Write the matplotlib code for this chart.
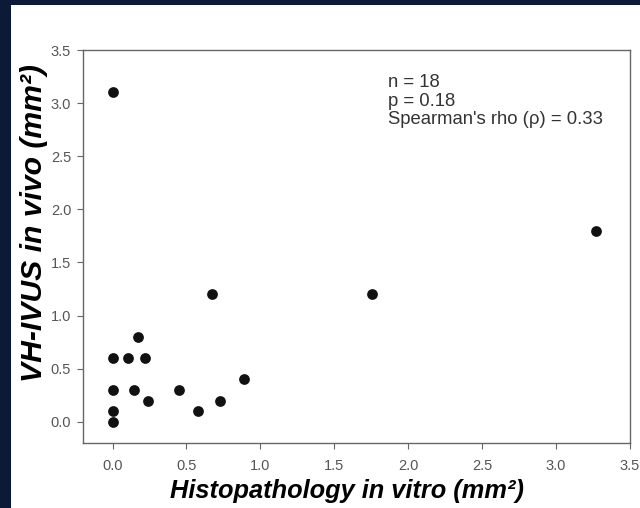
import matplotlib
matplotlib.use("Agg")
import matplotlib.pyplot as plt
from matplotlib.patches import Rectangle

histo = [0.0, 0.0, 0.0, 0.0, 0.0, 0.107, 0.146, 0.173, 0.218, 0.241,
         0.452, 0.575, 0.673, 0.73, 0.887, 1.753, 3.267]
vh = [3.1, 0.6, 0.3, 0.1, 0.0, 0.6, 0.3, 0.8, 0.6, 0.2,
      0.3, 0.1, 1.2, 0.2, 0.4, 1.2, 1.8]
xticks = [0.0, 0.5, 1.0, 1.5, 2.0, 2.5, 3.0, 3.5]
yticks = [0.0, 0.5, 1.0, 1.5, 2.0, 2.5, 3.0, 3.5]
stats_text = "n = 18\np = 0.18\nSpearman's rho (\u03c1) = 0.33"
xlabel = "Histopathology in vitro (mm\u00b2)"
ylabel = "VH-IVUS in vivo (mm\u00b2)"

plt.rcParams['font.family'] = ['Liberation Sans', 'DejaVu Sans']

fig = plt.figure(figsize=(6.4, 5.08), dpi=100)
fig.patch.set_facecolor('#0b1a36')
fig.patches.append(Rectangle((11/640, 0), 1, 1 - 5/508, transform=fig.transFigure,
                             facecolor='white', edgecolor='none', zorder=-10))

ax = fig.add_axes([83/640, 1 - 443/508, (630 - 83)/640, (443 - 50)/508])
ax.set_facecolor('white')
ax.scatter(histo, vh, s=60, color='#111111', zorder=3, linewidths=0)
ax.set_xlim(-0.2, 3.5)
ax.set_ylim(-0.2, 3.5)
ax.set_xticks(xticks)
ax.set_yticks(yticks)
ax.set_xticklabels([f"{t:.1f}" for t in xticks])
ax.set_yticklabels([f"{t:.1f}" for t in yticks])
for s in ax.spines.values():
    s.set_color('#666666')
    s.set_linewidth(1.0)
ax.tick_params(direction='out', length=4.5, width=0.8, color='#666666',
               labelcolor='#555555', labelsize=10.5)
ax.tick_params(axis='x', pad=7)
ax.tick_params(axis='y', pad=4)

ax.text(0.557, 0.94, stats_text, transform=ax.transAxes, ha='left', va='top',
        fontsize=13.3, color='#333333', linespacing=1.15)

fig.text(347/640, 1 - 491/508, xlabel, ha='center', va='center',
         fontsize=18.3, fontweight='bold', fontstyle='italic', color='black')
fig.text(34/640, 1 - 223/508, ylabel, ha='center', va='center', rotation=90,
         fontsize=21.7, fontweight='bold', fontstyle='italic', color='black')

fig.savefig('out.png', dpi=100, facecolor=fig.get_facecolor())
